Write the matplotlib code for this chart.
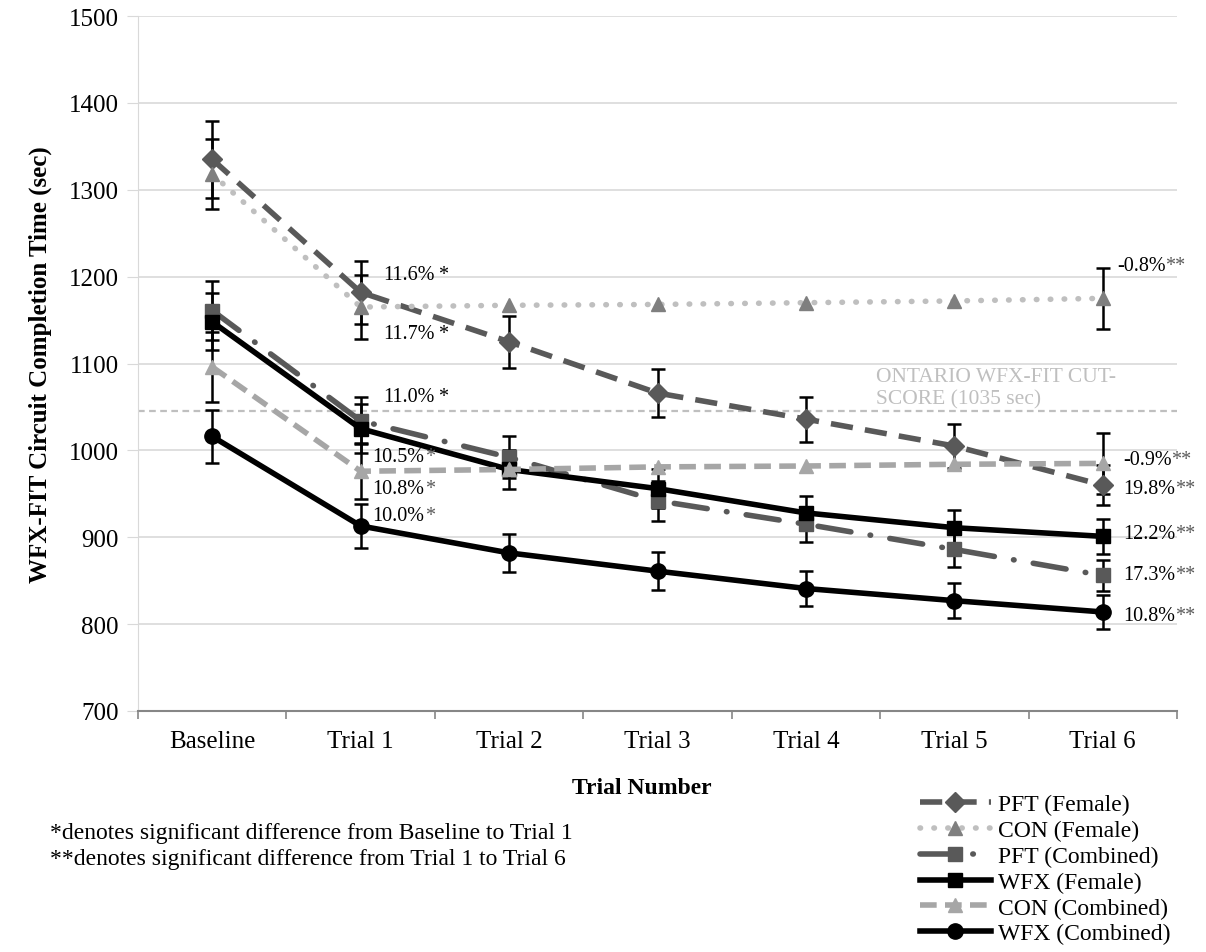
import numpy as np
import matplotlib
matplotlib.use("Agg")
import matplotlib.pyplot as plt

plt.rcParams['font.family'] = ['Liberation Serif', 'DejaVu Serif']

trials = ["Baseline", "Trial 1", "Trial 2", "Trial 3", "Trial 4", "Trial 5", "Trial 6"]
nan = np.nan

pft_f = [1335, 1182, 1125, 1066, 1036, 1005, 960]
pft_f_err = [44, 36, 30, 28, 26, 25, 23]
con_f = [1318, 1165, 1167, 1168, 1170, 1172, 1175]
con_f_err = [40, 37, nan, nan, nan, nan, 35]
pft_c = [1161, 1034, 992, 942, 915, 886, 856]
pft_c_err = [34, 27, 24, 23, 20, 20, 18]
wfx_f = [1148, 1025, 978, 956, 928, 911, 901]
wfx_f_err = [33, 28, 22, 22, 20, 20, 20]
con_c = [1096, 976, 978, 981, 982, 984, 985]
con_c_err = [40, 32, nan, nan, nan, nan, 35]
wfx_c = [1016, 913, 882, 861, 841, 827, 814]
wfx_c_err = [31, 25, 22, 22, 20, 20, 20]

cut_score = 1045

# percentage labels next to Trial 1 and Trial 6
notes_t1 = [("11.6%", " *", 1.15, 1202), ("11.7%", " *", 1.15, 1134), ("11.0%", " *", 1.15, 1062),
            ("10.5%", "*", 1.08, 993), ("10.8%", "*", 1.08, 956), ("10.0%", "*", 1.08, 925)]
notes_t6 = [("-0.8%", "**", 6.095, 1213), ("-0.9%", "**", 6.135, 990), ("19.8%", "**", 6.135, 956),
            ("12.2%", "**", 6.135, 904), ("17.3%", "**", 6.135, 857), ("10.8%", "**", 6.135, 810)]

series = [
    ("PFT (Female)", pft_f, pft_f_err, dict(color='#595959', ls=(0, (4, 2.2)), marker='D', mfc='#595959', mec='#595959', ms=10)),
    ("CON (Female)", con_f, con_f_err, dict(color='#BFBFBF', ls=(0, (0.1, 2.4)), marker='^', mfc='#7F7F7F', mec='#7F7F7F', ms=10, dash_capstyle='round')),
    ("PFT (Combined)", pft_c, pft_c_err, dict(color='#595959', ls=(0, (6, 3.5, 0.1, 3.5)), marker='s', mfc='#595959', mec='#595959', ms=10, dash_capstyle='round')),
    ("WFX (Female)", wfx_f, wfx_f_err, dict(color='black', ls='-', marker='s', mfc='black', mec='black', ms=10)),
    ("CON (Combined)", con_c, con_c_err, dict(color='#A6A6A6', ls=(0, (3, 1.5)), marker='^', mfc='#A6A6A6', mec='#A6A6A6', ms=10)),
    ("WFX (Combined)", wfx_c, wfx_c_err, dict(color='black', ls='-', marker='o', mfc='black', mec='black', ms=11)),
]

fig = plt.figure(figsize=(12.06, 9.53), dpi=100)
ax = fig.add_axes([138/1206, 1-712/953, (1177-138)/1206, (712-17)/953])

x = np.arange(len(trials))
handles = []
for name, vals, errs, st in series:
    vals = np.array(vals, dtype=float)
    errs = np.array(errs, dtype=float)
    ok = ~np.isnan(errs)
    ax.errorbar(x[ok], vals[ok], yerr=errs[ok], fmt='none', ecolor='black', elinewidth=1.8, capsize=4.8, capthick=1.8, zorder=2)
    ln, = ax.plot(x, vals, lw=4, zorder=3, **st)
    handles.append(ln)

ax.axhline(cut_score, color='#BFBFBF', ls=(0, (3, 2)), lw=1.6, zorder=1)
ax.text(4.47, cut_score + 27, "ONTARIO WFX-FIT CUT-\nSCORE (1035 sec)", color='#BFBFBF', fontsize=15.5,
        ha='left', va='center', linespacing=1.2)

for lab, st, xx, yy in notes_t1:
    t = ax.text(xx, yy, lab, fontsize=14.5, ha='left', va='center')
    ax.annotate(st, xy=(1, 0.5), xycoords=t, ha='left', va='center', fontsize=14.5,
                color='black' if st == " *" else '#595959')
for lab, st, xx, yy in notes_t6:
    t = ax.text(xx, yy, lab, fontsize=14.5, ha='left', va='center')
    ax.annotate(st, xy=(1, 0.5), xycoords=t, ha='left', va='center', fontsize=14.5, color='#595959')

ax.set_xlim(-0.5, 6.5)
ax.set_ylim(700, 1500)
ax.set_yticks(range(700, 1501, 100))
ax.set_xticks(x)
ax.set_xticklabels(trials, fontsize=18)
ax.set_xticks(np.arange(-0.5, 7, 1), minor=True)
ax.tick_params(axis='x', which='major', length=0, pad=14)
ax.tick_params(axis='x', which='minor', length=6, color='#868686', width=1.2)
ax.tick_params(axis='y', labelsize=18, length=8, color='#D9D9D9', pad=6)
ax.yaxis.grid(True, color='#D9D9D9', lw=1.2)
ax.set_axisbelow(True)
for s in ['top', 'right']:
    ax.spines[s].set_visible(False)
ax.spines['left'].set_color('#D9D9D9')
ax.spines['bottom'].set_color('#868686')
ax.spines['bottom'].set_linewidth(1.5)

ax.set_ylabel("WFX-FIT Circuit Completion Time (sec)", fontsize=18, fontweight='bold', labelpad=12)
ax.set_xlabel("Trial Number", fontsize=17, fontweight='bold', labelpad=18)
ax.xaxis.set_label_coords(0.485, -0.095)
fig.text(50/1206, 1-834/953, "*denotes significant difference from Baseline to Trial 1", fontsize=17, ha='left', va='center')
fig.text(50/1206, 1-859/953, "**denotes significant difference from Trial 1 to Trial 6", fontsize=17, ha='left', va='center')

fig.legend(handles=handles, labels=[s[0] for s in series], loc='upper left',
           bbox_to_anchor=(920/1206, 1-795/953), frameon=False, fontsize=17,
           handlelength=3.0, handletextpad=0.3, labelspacing=0.18, borderpad=0, borderaxespad=0)

fig.savefig("out.png", dpi=100)
